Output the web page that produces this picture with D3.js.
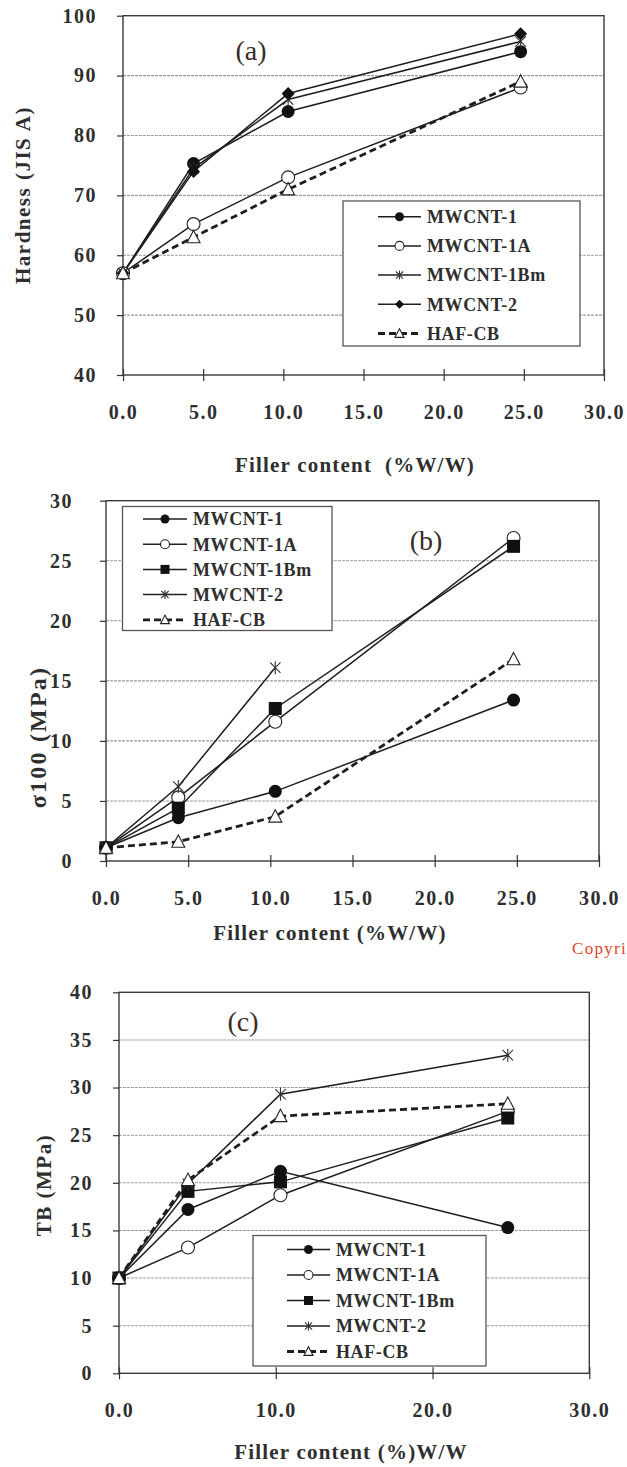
<!DOCTYPE html>
<html>
<head>
<meta charset="utf-8">
<script src="https://cdn.jsdelivr.net/npm/d3@7"></script>
<style>
  body { margin: 0; background: #fff; }
  svg { display: block; }
</style>
</head>
<body>
<svg id="chart" width="627" height="1467"></svg>
<script>
// filler content (%W/W) of the four compounds
const fillerContent = [0, 4.4, 10.3, 24.8];
const seriesNames = ["MWCNT-1", "MWCNT-1A", "MWCNT-1Bm", "MWCNT-2", "HAF-CB"];

// (a) hardness, JIS A
const hardness = [
  [57, 75.3, 84, 94],
  [57, 65.2, 73, 88],
  [57, 74.5, 86, 95.7],
  [57, 74, 87, 97],
  [57, 63, 71, 89]
];
// (b) sigma100, MPa (MWCNT-2 has no point at 24.8)
const sigma100 = [
  [1.1, 3.6, 5.8, 13.4],
  [1.1, 5.3, 11.6, 26.9],
  [1.1, 4.4, 12.7, 26.2],
  [1.1, 6.2, 16.1, null],
  [1.1, 1.6, 3.7, 16.8]
];
// (c) TB, MPa
const tensileTB = [
  [10, 17.2, 21.2, 15.3],
  [10, 13.2, 18.7, 27.5],
  [10, 19.1, 20.1, 26.8],
  [10, 19.9, 29.3, 33.4],
  [10, 20.3, 27, 28.3]
];

const xTicksAB = [0, 5, 10, 15, 20, 25, 30];
const xTicksC = [0, 10, 20, 30];
const hardnessTicks = [40, 50, 60, 70, 80, 90, 100];
const sigmaTicks = [0, 5, 10, 15, 20, 25, 30];
const tbTicks = [0, 5, 10, 15, 20, 25, 30, 35, 40];

const svg = d3.select("#chart");
const FONT = "'Liberation Serif', 'Times New Roman', serif";
const INK = "#1e1e1e";

function drawMarker(g, type, cx, cy, s) {
  if (type === "dot") {
    g.append("circle").attr("cx", cx).attr("cy", cy).attr("r", s)
      .attr("fill", "#111");
  } else if (type === "circle") {
    g.append("circle").attr("cx", cx).attr("cy", cy).attr("r", s)
      .attr("fill", "#fff").attr("stroke", "#222").attr("stroke-width", 1.1);
  } else if (type === "square") {
    g.append("rect").attr("x", cx - s).attr("y", cy - s)
      .attr("width", 2 * s).attr("height", 2 * s).attr("fill", "#111");
  } else if (type === "diamond") {
    g.append("path")
      .attr("d", `M${cx},${cy - s}L${cx + s},${cy}L${cx},${cy + s}L${cx - s},${cy}Z`)
      .attr("fill", "#111");
  } else if (type === "triangle") {
    g.append("path")
      .attr("d", `M${cx},${cy - s * 1.05}L${cx + s},${cy + s * 0.85}L${cx - s},${cy + s * 0.85}Z`)
      .attr("fill", "#fff").attr("stroke", "#222").attr("stroke-width", 1.1);
  } else if (type === "star") {
    const d = s * 0.8;
    g.append("path")
      .attr("d", `M${cx},${cy - s}L${cx},${cy + s}M${cx - d},${cy - d}L${cx + d},${cy + d}M${cx - d},${cy + d}L${cx + d},${cy - d}`)
      .attr("fill", "none").attr("stroke", "#333").attr("stroke-width", 1.1);
  }
}

function drawPanel(p) {
  const g = svg.append("g");
  const x = d3.scaleLinear().domain([0, 30]).range([p.left, p.right]);
  const y = d3.scaleLinear().domain(p.yDomain).range([p.bottom, p.top]);

  // gridlines
  g.append("g").selectAll("line")
    .data(p.yTicks.filter(t => t > p.yDomain[0] && t < p.yDomain[1]))
    .join("line")
    .attr("x1", p.left).attr("x2", p.right)
    .attr("y1", d => y(d)).attr("y2", d => y(d))
    .attr("stroke", "#9a9a9a").attr("stroke-width", 1.1)
    .attr("stroke-dasharray", "3,1");

  // frame
  g.append("rect")
    .attr("x", p.left).attr("y", p.top)
    .attr("width", p.right - p.left).attr("height", p.bottom - p.top)
    .attr("fill", "none").attr("stroke", "#3a3a3a").attr("stroke-width", 1.4);

  // axes
  const xAxis = g.append("g")
    .attr("transform", `translate(0,${p.bottom})`)
    .call(d3.axisBottom(x).tickValues(p.xTicks).tickFormat(d3.format(".1f")).tickSize(6));
  xAxis.select(".domain").remove();
  xAxis.selectAll("line").attr("y1", -6).attr("y2", 6).attr("stroke", "#333").attr("stroke-width", 1.2);
  xAxis.selectAll("text")
    .attr("y", 30)
    .style("font-family", FONT).style("font-size", "20px").style("font-weight", "bold")
    .style("letter-spacing", "1.5px").attr("fill", "#2e2e2e");

  const yAxis = g.append("g")
    .attr("transform", `translate(${p.left},0)`)
    .call(d3.axisLeft(y).tickValues(p.yTicks).tickSize(6));
  yAxis.select(".domain").remove();
  yAxis.selectAll("line").attr("stroke", "#333").attr("stroke-width", 1.2);
  yAxis.selectAll("text")
    .attr("x", -p.yLabelGap)
    .style("font-family", FONT).style("font-size", "20px").style("font-weight", "bold")
    .style("letter-spacing", "1.5px").attr("fill", "#2e2e2e");

  // axis titles
  g.append("text")
    .attr("x", p.xTitle[0]).attr("y", p.xTitle[1])
    .attr("text-anchor", "middle")
    .style("white-space", "pre")
    .style("font-family", FONT).style("font-size", "21px").style("font-weight", "bold")
    .style("letter-spacing", "1.2px").attr("fill", "#2e2e2e")
    .text(p.xLabel);

  g.append("text")
    .attr("transform", `translate(${p.yTitle[0]},${p.yTitle[1]}) rotate(-90)`)
    .attr("text-anchor", "middle").attr("dy", "0.35em")
    .style("font-family", FONT).style("font-size", p.yTitleSize + "px").style("font-weight", "bold")
    .style("letter-spacing", p.yTitleSpacing + "px").attr("fill", "#2e2e2e")
    .text(p.yLabel);

  // panel tag
  g.append("text")
    .attr("x", p.tag[0]).attr("y", p.tag[1])
    .attr("text-anchor", "middle").attr("dy", "0.35em")
    .style("font-family", FONT).style("font-size", "28px")
    .attr("fill", "#3b2b28")
    .text(p.tagText);

  // series lines
  const line = d3.line()
    .defined(d => d[1] != null)
    .x(d => x(d[0])).y(d => y(d[1]));

  p.values.forEach((vals, i) => {
    const pts = fillerContent.map((fc, j) => [fc, vals[j]]);
    const dashed = seriesNames[i] === "HAF-CB";
    g.append("path")
      .datum(pts)
      .attr("fill", "none")
      .attr("stroke", INK)
      .attr("stroke-width", dashed ? 2.8 : 1.5)
      .attr("stroke-dasharray", dashed ? "7,4" : null)
      .attr("d", line);
  });
  p.values.forEach((vals, i) => {
    fillerContent.forEach((fc, j) => {
      if (vals[j] == null) return;
      drawMarker(g, p.markers[i], x(fc), y(vals[j]), 6.5);
    });
  });

  // legend
  const L = p.legend;
  g.append("rect")
    .attr("x", L.x0).attr("y", L.y0)
    .attr("width", L.x1 - L.x0).attr("height", L.y1 - L.y0)
    .attr("fill", "#fff").attr("stroke", "#555").attr("stroke-width", 1.3);
  seriesNames.forEach((name, i) => {
    const ly = L.row0 + i * L.step;
    const dashed = name === "HAF-CB";
    g.append("line")
      .attr("x1", L.lineX[0]).attr("x2", L.lineX[1])
      .attr("y1", ly).attr("y2", ly)
      .attr("stroke", INK)
      .attr("stroke-width", dashed ? 2.8 : 1.5)
      .attr("stroke-dasharray", dashed ? "7,4" : null);
    drawMarker(g, p.markers[i], (L.lineX[0] + L.lineX[1]) / 2, ly, 4.5);
    g.append("text")
      .attr("x", L.textX).attr("y", ly).attr("dy", "0.35em")
      .style("font-family", FONT).style("font-size", "18px").style("font-weight", "bold")
      .style("letter-spacing", "0.6px").attr("fill", "#2e2e2e")
      .text(name);
  });
}

drawPanel({
  left: 123, right: 604, top: 15.7, bottom: 375,
  yDomain: [40, 100], yTicks: hardnessTicks, xTicks: xTicksAB, yLabelGap: 26,
  values: hardness,
  markers: ["dot", "circle", "star", "diamond", "triangle"],
  xLabel: "Filler content  (%W/W)", xTitle: [355, 472],
  yLabel: "Hardness (JIS A)", yTitle: [23, 195], yTitleSize: 21, yTitleSpacing: 1.5,
  tagText: "(a)", tag: [251, 50],
  legend: { x0: 343, y0: 201, x1: 580, y1: 346, row0: 216.7, step: 29.2, lineX: [378, 421], textX: 427 }
});

drawPanel({
  left: 106, right: 599, top: 500.7, bottom: 861,
  yDomain: [0, 30], yTicks: sigmaTicks, xTicks: xTicksAB, yLabelGap: 33,
  values: sigma100,
  markers: ["dot", "circle", "square", "star", "triangle"],
  xLabel: "Filler content (%W/W)", xTitle: [330, 940],
  yLabel: "σ100 (MPa)", yTitle: [38, 737], yTitleSize: 24, yTitleSpacing: 2.2,
  tagText: "(b)", tag: [426, 540],
  legend: { x0: 122.5, y0: 506.5, x1: 332, y1: 630.5, row0: 519, step: 25.2, lineX: [143, 187], textX: 193 }
});

drawPanel({
  left: 119, right: 589.3, top: 992.3, bottom: 1373.3,
  yDomain: [0, 40], yTicks: tbTicks, xTicks: xTicksC, yLabelGap: 26,
  values: tensileTB,
  markers: ["dot", "circle", "square", "star", "triangle"],
  xLabel: "Filler content (%)W/W", xTitle: [351, 1459],
  yLabel: "TB (MPa)", yTitle: [44, 1185], yTitleSize: 21, yTitleSpacing: 1.5,
  tagText: "(c)", tag: [243, 1021],
  legend: { x0: 253, y0: 1235.5, x1: 486, y1: 1366, row0: 1249.5, step: 25.5, lineX: [287, 330], textX: 336 }
});

// cropped watermark at the edge of the source page
svg.append("text")
  .attr("x", 572).attr("y", 948).attr("dy", "0.35em")
  .style("font-family", FONT).style("font-size", "17px")
  .style("letter-spacing", "1.3px").attr("fill", "#e4452f")
  .text("Copyri");
</script>
</body>
</html>
